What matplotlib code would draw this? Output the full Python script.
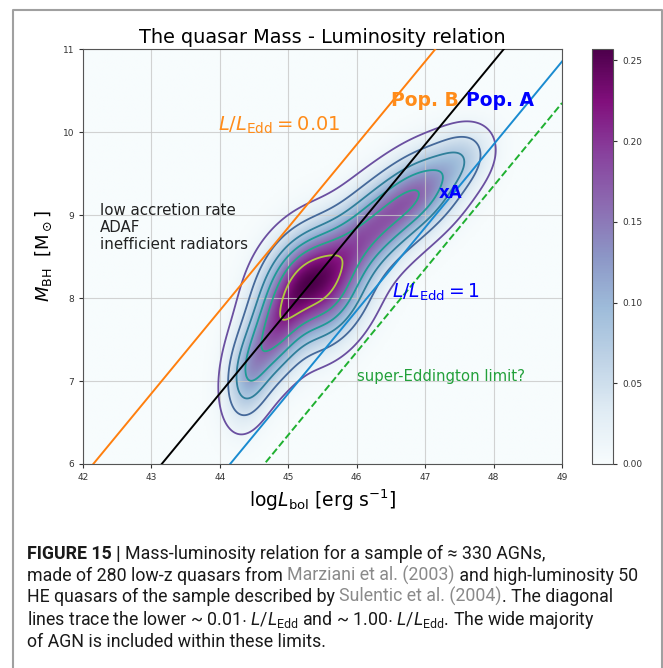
import numpy as np
import matplotlib
matplotlib.use("Agg")
import matplotlib.pyplot as plt
from matplotlib.lines import Line2D

# ── Data ─────────────────────────────────────────────────────────────────
# KDE of the AGN sample, described as a few elongated gaussian blobs
comp_L      = [44.40, 44.78, 45.20, 45.65, 45.75, 46.25, 46.95, 47.55]
comp_M      = [7.00, 7.55, 8.25, 8.00, 8.55, 8.85, 9.30, 9.70]
comp_major  = [0.35, 0.45, 0.45, 0.45, 0.40, 0.50, 0.45, 0.30]
comp_minor  = [0.20, 0.26, 0.32, 0.30, 0.28, 0.30, 0.28, 0.22]
comp_angle  = [78, 60, 45, 50, 25, 35, 32, 30]
comp_weight = [0.06, 0.13, 0.15, 0.11, 0.03, 0.12, 0.11, 0.04]
peak_density = 0.257

contour_levels = [0.014, 0.042, 0.08, 0.12, 0.165, 0.215]
contour_colors = ["#6a4fa0", "#45699a", "#2f7f9a", "#1f9a96", "#22a88a", "#b0c840"]

# Eddington-ratio lines: log M = log L - offset
line_offsets = [36.15, 37.15, 38.15, 38.65]
line_colors  = ["#ff7f0e", "black", "#1a8bd0", "#1fb030"]
line_styles  = ["-", "-", "-", "--"]

x_ticks  = [42, 43, 44, 45, 46, 47, 48, 49]
y_ticks  = [6, 7, 8, 9, 10, 11]
cb_ticks = [0.00, 0.05, 0.10, 0.15, 0.20, 0.25]

# ── Density grid ─────────────────────────────────────────────────────────
gl = np.linspace(42, 49, 350)
gm = np.linspace(6, 11, 260)
LL, MM = np.meshgrid(gl, gm)
dens = np.zeros_like(LL)
for cl, cm, sa, sb, ang, w in zip(comp_L, comp_M, comp_major, comp_minor,
                                  comp_angle, comp_weight):
    t = np.deg2rad(ang)
    u = (LL - cl) * np.cos(t) + (MM - cm) * np.sin(t)
    v = -(LL - cl) * np.sin(t) + (MM - cm) * np.cos(t)
    dens += w * np.exp(-0.5 * ((u / sa) ** 2 + (v / sb) ** 2))
dens *= peak_density / dens.max()

# ── Figure ───────────────────────────────────────────────────────────────
plt.rcParams["mathtext.rm"] = "Roboto"
plt.rcParams["mathtext.it"] = "Roboto:italic"
plt.rcParams["mathtext.bf"] = "Roboto:bold"

fig = plt.figure(figsize=(6.63, 6.68), dpi=100)
fig.patch.set_facecolor("white")

# grey frame round the figure panel
fig.add_artist(Line2D([0.0196, 0.0196, 0.9985, 0.9985], [0.0, 0.985, 0.985, 0.0],
                      color="#a0a0a0", lw=1.5, transform=fig.transFigure))

ax = fig.add_axes([0.1252, 0.3054, 0.7225, 0.6212])
im = ax.imshow(dens, origin="lower", extent=[42, 49, 6, 11], aspect="auto",
               cmap="BuPu", vmin=0, vmax=peak_density, interpolation="bilinear",
               zorder=0)
ax.contour(LL, MM, dens, levels=contour_levels, colors=contour_colors,
           linewidths=1.3, zorder=2)

xs = np.array([42.0, 49.0])
for off, c, ls in zip(line_offsets, line_colors, line_styles):
    ax.plot(xs, xs - off, color=c, ls=ls, lw=1.4, zorder=3)

ax.set_xlim(42, 49)
ax.set_ylim(6, 11)
ax.set_xticks(x_ticks)
ax.set_yticks(y_ticks)
ax.grid(True, color="#c8c8c8", lw=0.8, alpha=0.8, zorder=1)
ax.tick_params(labelsize=6.5, colors="#333333", length=3)
for sp in ax.spines.values():
    sp.set_color("#555555")

ax.set_title("The quasar Mass - Luminosity relation", fontsize=13.9, pad=4)
ax.set_xlabel(r"log$L_{\rm bol}$ [erg s$^{-1}$]", fontsize=13.5, labelpad=4)
ax.set_ylabel(r"$M_{\rm BH}$  [M$_\odot$]", fontsize=13, labelpad=6)

ax.text(43.97, 10.08, r"$L/L_{\rm Edd} = 0.01$", color="#ff8c1a", fontsize=14,
        va="center", math_fontfamily="dejavusans")
ax.text(46.50, 10.38, "Pop. B", color="#ff8c1a", fontsize=13.5, fontweight="bold",
        va="center")
ax.text(47.60, 10.38, "Pop. A", color="blue", fontsize=13.5, fontweight="bold",
        va="center")
ax.text(47.20, 9.27, "xA", color="blue", fontsize=12, fontweight="bold", va="center")
ax.text(46.52, 8.07, r"$L/L_{\rm Edd} = 1$", color="blue", fontsize=13.5,
        va="center", math_fontfamily="dejavusans")
ax.text(46.0, 7.06, "super-Eddington limit?", color="#22a03a", fontsize=10.7,
        va="center")
ax.text(42.25, 8.85, "low accretion rate\nADAF\ninefficient radiators",
        color="#222222", fontsize=10.8, va="center", linespacing=1.15)

cax = fig.add_axes([0.8929, 0.3054, 0.0317, 0.6212])
cb = fig.colorbar(im, cax=cax, ticks=cb_ticks, format="%.2f")
cb.ax.tick_params(labelsize=6.5, colors="#333333", length=3)
cb.outline.set_edgecolor("#555555")

# ── Caption ──────────────────────────────────────────────────────────────
cap_font = dict(family=["Roboto", "DejaVu Sans"], fontsize=12.8, color="#1a1a1a",
                va="baseline", math_fontfamily="custom")
renderer = fig.canvas.get_renderer()


def draw_runs(x, y, runs):
    for txt, kw in runs:
        opts = dict(cap_font)
        opts.update(kw)
        t = fig.text(x, y, txt, **opts)
        x += t.get_window_extent(renderer).width / fig.bbox.width


gray = {"color": "#8a8a8a"}
x0 = 27 / 663
rows = [559, 581, 602, 625, 647]
ys = [1 - r / 668 for r in rows]
draw_runs(x0, ys[0], [("FIGURE 15 | ", {"fontweight": "bold"}),
                      ("Mass-luminosity relation for a sample of \u2248 330 AGNs,", {})])
draw_runs(x0, ys[1], [("made of 280 low-z quasars from ", {}),
                      ("Marziani et al. (2003)", gray),
                      (" and high-luminosity 50", {})])
draw_runs(x0, ys[2], [("HE quasars of the sample described by ", {}),
                      ("Sulentic et al. (2004)", gray),
                      (". The diagonal", {})])
draw_runs(x0, ys[3], [(r"lines trace the lower ~ 0.01$\cdot$ $L/L_{\rm Edd}$ and ~ 1.00$\cdot$ "
                       r"$L/L_{\rm Edd}$. The wide majority", {})])
draw_runs(x0, ys[4], [("of AGN is included within these limits.", {})])

fig.savefig("out.png", dpi=100, facecolor="white")
